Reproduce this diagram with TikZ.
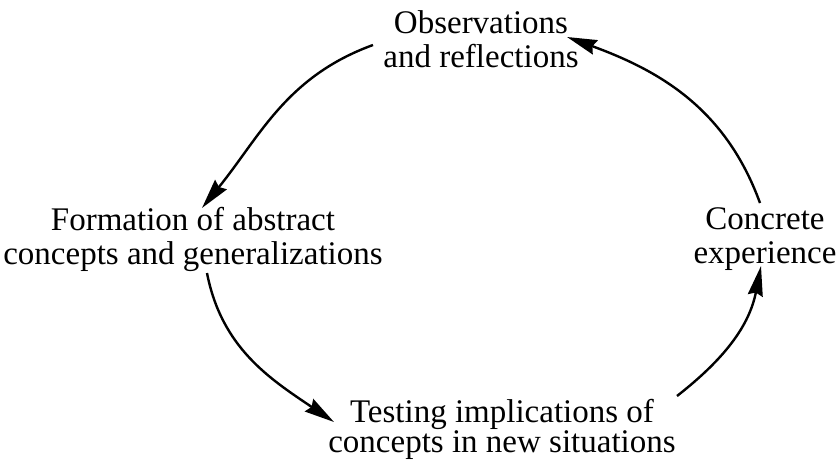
\documentclass[tikz,border=0pt]{standalone}
\usepackage{fontspec}
\setmainfont{Liberation Serif}
\usetikzlibrary{arrows.meta}
\begin{document}
\begin{tikzpicture}[x=1pt,y=-1pt,
  stage/.style={align=center,inner sep=0pt,
    font=\fontsize{33}{34}\selectfont},
  flow/.style={line width=2.4pt,
    -{Stealth[length=30pt,width=15pt,inset=3pt]}}]
\useasboundingbox (0,0) rectangle (838,461);

% the four stages of the cycle
\node[stage] (obs)  at (481,39)  {Observations\\and reflections};
\node[stage] (form) at (193,239) {Formation of abstract\\concepts and generalizations};
\node[stage] (conc) at (765,239) {Concrete\\experience};
\node[stage,font=\fontsize{33}{30}\selectfont] (test) at (502,429)
  {Testing implications of\\concepts in new situations};

% attachment points of the curved arrows
\coordinate (c1) at (760,203);
\coordinate (o1) at (567,37);
\coordinate (o2) at (373,45);
\coordinate (f1) at (202,208);
\coordinate (f2) at (207,273);
\coordinate (t1) at (334,422);
\coordinate (t2) at (677,396);
\coordinate (c2) at (761,266);

\draw[flow] (c1) to[out=110,in=-20] (o1);
\draw[flow] (o2) to[out=200,in=51] (f1);
\draw[flow] (f2) to[out=-79,in=146] (t1);
\draw[flow] (t2) to[out=38,in=-101] (c2);
\end{tikzpicture}
\end{document}
